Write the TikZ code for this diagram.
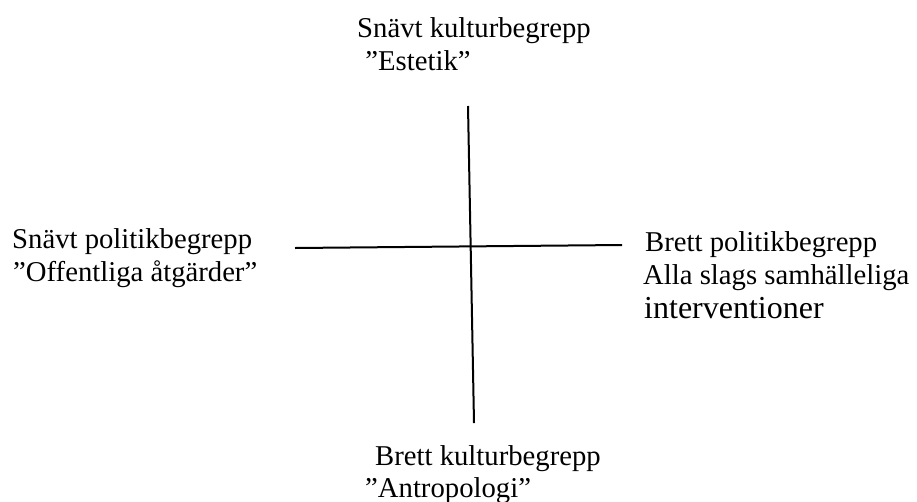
\documentclass[tikz,border=0pt]{standalone}
\usepackage{fontspec}
\setmainfont{Liberation Serif}
\begin{document}
\begin{tikzpicture}[x=1pt,y=-1pt,
  lbl/.style={anchor=base west,inner sep=0pt,font=\fontsize{28.7}{33}\selectfont},
  lblbig/.style={anchor=base west,inner sep=0pt,font=\fontsize{32}{36}\selectfont},
  axis/.style={line width=2pt,line cap=butt}]
\useasboundingbox (0,0) rectangle (917,501);
% axes
\coordinate (vtop) at (468,106);
\coordinate (vbot) at (474,423);
\coordinate (hleft) at (295,248);
\coordinate (hright) at (622,245);
\draw[axis] (vtop) -- (vbot);
\draw[axis] (hleft) -- (hright);
% top
\node[lbl] (top1) at (357,37) {Snävt kulturbegrepp};
\node[lbl] (top2) at (358,70) {\ ”Estetik”};
% left
\node[lbl] (left1) at (12,248) {Snävt politikbegrepp};
\node[lbl] (left2) at (13,281) {”Offentliga åtgärder”};
% right
\node[lbl] (right1) at (645,251) {Brett politikbegrepp};
\node[lbl] (right2) at (643,284) {Alla slags samhälleliga};
\node[lblbig] (right3) at (644,318) {interventioner};
% bottom
\node[lbl] (bot1) at (375,465) {Brett kulturbegrepp};
\node[lbl] (bot2) at (365,497) {”Antropologi”};
\end{tikzpicture}
\end{document}
